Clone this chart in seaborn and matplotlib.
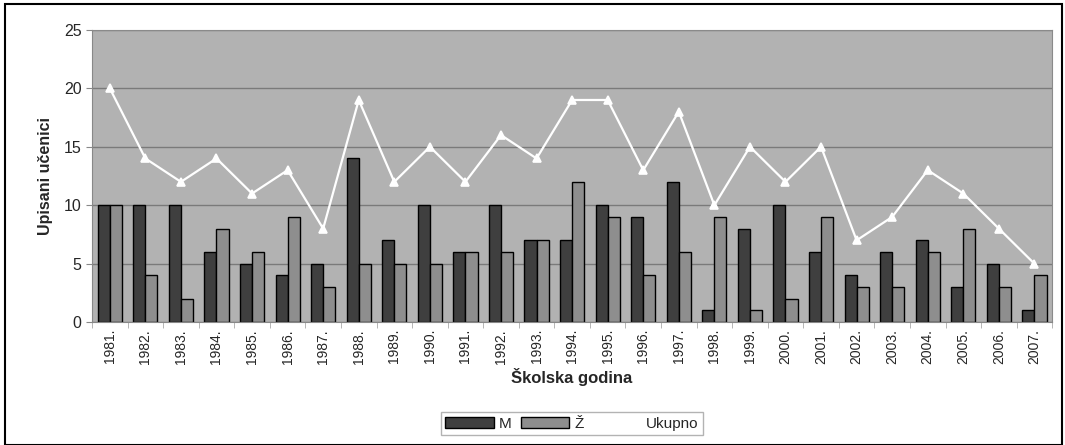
import numpy as np
import pandas as pd
import matplotlib
matplotlib.use("Agg")
import matplotlib.pyplot as plt
from matplotlib.patches import Patch, Rectangle
from matplotlib.lines import Line2D
import seaborn as sns

years = [f"{y}." for y in range(1981, 2008)]
m_vals = [10, 10, 10, 6, 5, 4, 5, 14, 7, 10, 6, 10, 7, 7, 10, 9, 12, 1, 8, 10, 6, 4, 6, 7, 3, 5, 1]
z_vals = [10, 4, 2, 8, 6, 9, 3, 5, 5, 5, 6, 6, 7, 12, 9, 4, 6, 9, 1, 2, 9, 3, 3, 6, 8, 3, 4]
ukupno = [20, 14, 12, 14, 11, 13, 8, 19, 12, 15, 12, 16, 14, 19, 19, 13, 18, 10, 15, 12, 15, 7, 9, 13, 11, 8, 5]
colors = {"M": "#3f3f3f", "Ž": "#8e8e8e"}

df = pd.DataFrame({"godina": years * 2,
                   "spol": ["M"] * len(years) + ["Ž"] * len(years),
                   "broj": m_vals + z_vals})

sns.set_style("white")
plt.rcParams["font.family"] = ["Liberation Sans", "DejaVu Sans"]

fig = plt.figure(figsize=(10.65, 4.45), dpi=100)
ax = fig.add_axes([0.0864, 0.276, 0.9016, 0.657])
ax.set_facecolor("#b2b2b2")

sns.barplot(data=df, x="godina", y="broj", hue="spol", palette=colors,
            width=0.68, edgecolor="black", linewidth=1.0, ax=ax, legend=False)
sns.pointplot(x=years, y=ukupno, color="white", markers="^", markersize=6,
              linewidth=1.6, ax=ax)

ax.set_ylim(0, 25)
ax.set_yticks([0, 5, 10, 15, 20, 25])
ax.set_xlim(-0.5, len(years) - 0.5)
ax.set_xticks(np.arange(len(years) + 1) - 0.5, minor=True)
ax.yaxis.grid(True, color="#7a7a7a", linewidth=1.0)
ax.set_axisbelow(True)
for s in ["top", "right"]:
    ax.spines[s].set_color("#8a8a8a")
for s in ["left", "bottom"]:
    ax.spines[s].set_color("#888888")
ax.tick_params(axis="y", labelsize=11.5, length=4, color="#888888", left=True)
ax.tick_params(axis="x", which="major", labelsize=10, rotation=90, length=0, pad=5)
ax.tick_params(axis="x", which="minor", length=4, color="#aaaaaa", bottom=True)
ax.set_ylabel("Upisani učenici", fontsize=11.5, fontweight="bold", labelpad=8)
ax.set_xlabel("Školska godina", fontsize=12, fontweight="bold", labelpad=3)

handles = [Patch(facecolor=colors["M"], edgecolor="black"),
           Patch(facecolor=colors["Ž"], edgecolor="black"),
           Line2D([0], [0], color="white", marker="^", markersize=5)]
fig.legend(handles, ["M", "Ž", "Ukupno"], loc="lower center", ncol=3,
           bbox_to_anchor=(0.537, 0.005), fontsize=11, frameon=True,
           fancybox=False, edgecolor="#a0a0a0", handlelength=3.2,
           handletextpad=0.3, columnspacing=0.6, borderpad=0.3)

fig.patches.append(Rectangle((0.005, 0.0), 0.992, 0.992, transform=fig.transFigure,
                             fill=False, edgecolor="black", linewidth=1.5))

fig.savefig("out.png", dpi=100)
